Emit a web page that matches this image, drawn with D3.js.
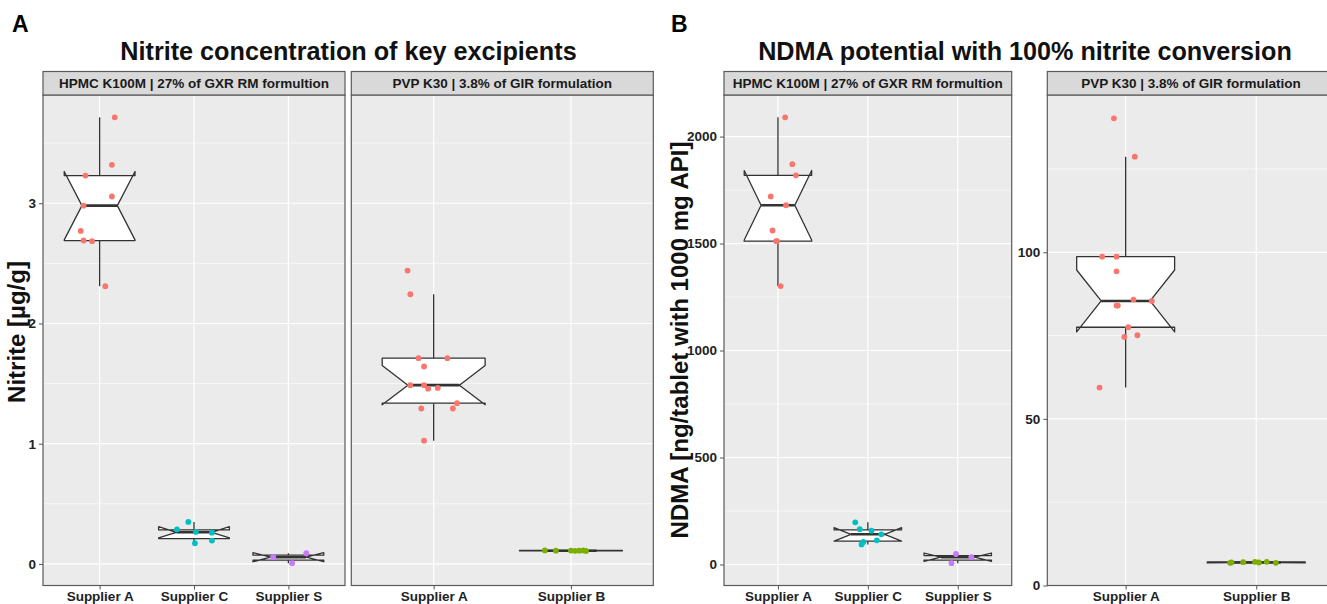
<!DOCTYPE html>
<html>
<head>
<meta charset="utf-8">
<script src="https://cdn.jsdelivr.net/npm/d3@7"></script>
<style>
  body { margin: 0; background: #fff; }
  text { font-family: "Liberation Sans", Arial, sans-serif; font-weight: bold; }
</style>
</head>
<body>
<svg id="chart"></svg>
<script>
// categories
const hpmcSuppliers = ["Supplier A", "Supplier C", "Supplier S"];
const pvpSuppliers = ["Supplier A", "Supplier B"];
const hpmcStrip = "HPMC K100M | 27% of GXR RM formultion";
const pvpStrip = "PVP K30 | 3.8% of GIR formulation";

// panel A: nitrite [µg/g], jitter offsets are in category steps
const nitriteHpmcA = [3.715, 3.32, 3.23, 3.056, 2.98, 2.77, 2.69, 2.685, 2.31];
const nitriteHpmcAJit = [0.16, 0.13, -0.15, 0.13, -0.17, -0.20, -0.17, -0.08, 0.06];
const nitriteHpmcC = [0.349, 0.288, 0.266, 0.26, 0.194, 0.172];
const nitriteHpmcCJit = [-0.06, -0.18, 0.02, 0.19, 0.19, 0.01];
const nitriteHpmcS = [0.089, 0.056, 0.006];
const nitriteHpmcSJit = [0.19, -0.16, 0.04];
const nitritePvpA = [2.44, 2.243, 1.711, 1.711, 1.642, 1.487, 1.487, 1.458, 1.464, 1.337, 1.293, 1.293, 1.025];
const nitritePvpAJit = [-0.19, -0.17, -0.11, 0.10, -0.07, -0.17, -0.07, -0.04, 0.03, 0.17, -0.09, 0.14, -0.07];
const nitritePvpB = [0.112, 0.11, 0.111, 0.109, 0.11, 0.112, 0.108];
const nitritePvpBJit = [-0.19, -0.11, 0.00, 0.03, 0.06, 0.09, 0.11];

// panel B: NDMA [ng/tablet with 1000 mg API]
const ndmaHpmcA = [2090, 1871, 1819, 1720, 1679, 1561, 1511, 1511, 1301];
const ndmaHpmcAJit = [0.08, 0.16, 0.20, -0.08, 0.09, -0.06, -0.02, -0.01, 0.03];
const ndmaHpmcC = [197, 165, 158, 141, 113, 105, 94];
const ndmaHpmcCJit = [-0.14, -0.09, 0.04, 0.15, 0.10, -0.05, -0.07];
const ndmaHpmcS = [49, 34, 6];
const ndmaHpmcSJit = [-0.02, 0.15, -0.07];
const ndmaPvpA = [140.2, 128.7, 98.7, 98.7, 94.3, 85.8, 85.4, 84.0, 84.0, 77.5, 75.1, 74.6, 59.4];
const ndmaPvpAJit = [-0.09, 0.07, -0.18, -0.07, -0.07, 0.06, 0.20, -0.07, -0.06, 0.02, 0.09, -0.01, -0.20];
const ndmaPvpB = [6.8, 6.9, 7.0, 7.1, 6.9, 7.1, 6.8];
const ndmaPvpBJit = [-0.20, -0.19, -0.10, -0.01, 0.02, 0.08, 0.15];

// tick labels
const nitriteTicks = [0, 1, 2, 3];
const ndmaHpmcTicks = [0, 500, 1000, 1500, 2000];
const ndmaPvpTicks = [0, 50, 100];

const colors = {
  "Supplier A": "#F8766D",
  "Supplier B": "#7CAE00",
  "Supplier C": "#00BFC4",
  "Supplier S": "#C77CFF"
};

const W = 1327, H = 604;
const stripTop = 71.5, panelTop = 95, panelBottom = 585.5;

const svg = d3.select("#chart").attr("width", W).attr("height", H);

function groups(names, vals, jits) {
  return names.map((n, i) => ({ name: n, values: vals[i], jitter: jits[i] }));
}

function expanded(all, zeroFloor) {
  const [lo, hi] = d3.extent(all);
  const pad = (hi - lo) * 0.05;
  return zeroFloor ? [0, hi + hi * 0.05] : [lo - pad, hi + pad];
}

function boxStats(values) {
  const v = values.slice().sort(d3.ascending);
  const q1 = d3.quantile(v, 0.25), med = d3.quantile(v, 0.5), q3 = d3.quantile(v, 0.75);
  const iqr = q3 - q1;
  const notch = 1.58 * iqr / Math.sqrt(v.length);
  return {
    q1, med, q3,
    lo: d3.min(v.filter(d => d >= q1 - 1.5 * iqr)),
    hi: d3.max(v.filter(d => d <= q3 + 1.5 * iqr)),
    nlo: med - notch, nhi: med + notch
  };
}

function facet(x0, x1, y, data, strip, ticks) {
  const g = svg.append("g");
  const x = d3.scalePoint().domain(data.map(d => d.name)).range([x0, x1]).padding(0.6);
  const step = x.step();
  const bw = step * 0.75;
  const tStep = ticks[1] - ticks[0];
  const minors = [ticks[0] - tStep / 2].concat(ticks.map(t => t + tStep / 2))
    .filter(t => t > y.domain()[0] && t < y.domain()[1]);

  g.append("rect").attr("x", x0).attr("y", panelTop)
    .attr("width", x1 - x0).attr("height", panelBottom - panelTop).attr("fill", "#ebebeb");

  g.selectAll(".minor").data(minors).enter().append("line")
    .attr("x1", x0).attr("x2", x1).attr("y1", d => y(d)).attr("y2", d => y(d))
    .attr("stroke", "#fff").attr("stroke-width", 0.6);
  g.selectAll(".major").data(ticks).enter().append("line")
    .attr("x1", x0).attr("x2", x1).attr("y1", d => y(d)).attr("y2", d => y(d))
    .attr("stroke", "#fff").attr("stroke-width", 1.2);
  g.selectAll(".vmajor").data(data).enter().append("line")
    .attr("x1", d => x(d.name)).attr("x2", d => x(d.name))
    .attr("y1", panelTop).attr("y2", panelBottom)
    .attr("stroke", "#fff").attr("stroke-width", 1.2);

  const line = d3.line();
  data.forEach(d => {
    const s = boxStats(d.values);
    const cx = x(d.name), xmin = cx - bw / 2, xmax = cx + bw / 2, ni = bw * 0.25;
    g.append("line").attr("x1", cx).attr("x2", cx).attr("y1", y(s.q3)).attr("y2", y(s.hi))
      .attr("stroke", "#333").attr("stroke-width", 1.3);
    g.append("line").attr("x1", cx).attr("x2", cx).attr("y1", y(s.q1)).attr("y2", y(s.lo))
      .attr("stroke", "#333").attr("stroke-width", 1.3);
    const pts = [
      [xmin, y(s.q3)], [xmin, y(s.nhi)], [xmin + ni, y(s.med)], [xmin, y(s.nlo)], [xmin, y(s.q1)],
      [xmax, y(s.q1)], [xmax, y(s.nlo)], [xmax - ni, y(s.med)], [xmax, y(s.nhi)], [xmax, y(s.q3)]
    ];
    g.append("path").attr("d", line(pts) + "Z")
      .attr("fill", "#fff").attr("stroke", "#333").attr("stroke-width", 1.3)
      .attr("stroke-linejoin", "round");
    g.append("line").attr("x1", xmin + ni).attr("x2", xmax - ni)
      .attr("y1", y(s.med)).attr("y2", y(s.med))
      .attr("stroke", "#333").attr("stroke-width", 2.6);
    g.selectAll(null).data(d.values).enter().append("circle")
      .attr("cx", (v, i) => cx + d.jitter[i] * step)
      .attr("cy", v => y(v))
      .attr("r", 2.9)
      .attr("fill", colors[d.name]);
  });

  g.append("rect").attr("x", x0).attr("y", panelTop)
    .attr("width", x1 - x0).attr("height", panelBottom - panelTop)
    .attr("fill", "none").attr("stroke", "#5a5a5a").attr("stroke-width", 1.2);

  g.append("rect").attr("x", x0).attr("y", stripTop)
    .attr("width", x1 - x0).attr("height", panelTop - stripTop)
    .attr("fill", "#d9d9d9").attr("stroke", "#5a5a5a").attr("stroke-width", 1.2);
  g.append("text").attr("x", (x0 + x1) / 2).attr("y", stripTop + 16)
    .attr("text-anchor", "middle").attr("font-size", 13.5).attr("fill", "#1a1a1a")
    .text(strip);

  const xAxis = g.append("g").attr("transform", `translate(0,${panelBottom})`)
    .call(d3.axisBottom(x).tickSize(4).tickPadding(2));
  xAxis.select(".domain").remove();
  xAxis.selectAll("line").attr("stroke", "#555");
  xAxis.selectAll("text").attr("font-size", 13.5).attr("fill", "#222")
    .attr("font-family", null);
  return x;
}

function yAxis(x0, y, ticks) {
  const a = svg.append("g").attr("transform", `translate(${x0},0)`)
    .call(d3.axisLeft(y).tickValues(ticks).tickFormat(d3.format("d")).tickSize(4).tickPadding(3));
  a.select(".domain").remove();
  a.selectAll("line").attr("stroke", "#555");
  a.selectAll("text").attr("font-size", 13.5).attr("fill", "#222").attr("font-family", null);
}

// Panel A
const yNitrite = d3.scaleLinear()
  .domain(expanded([].concat(nitriteHpmcA, nitriteHpmcC, nitriteHpmcS, nitritePvpA, nitritePvpB)))
  .range([panelBottom, panelTop]);
facet(43, 345, yNitrite,
  groups(hpmcSuppliers, [nitriteHpmcA, nitriteHpmcC, nitriteHpmcS], [nitriteHpmcAJit, nitriteHpmcCJit, nitriteHpmcSJit]),
  hpmcStrip, nitriteTicks);
facet(351.3, 653.3, yNitrite,
  groups(pvpSuppliers, [nitritePvpA, nitritePvpB], [nitritePvpAJit, nitritePvpBJit]),
  pvpStrip, nitriteTicks);
yAxis(43, yNitrite, nitriteTicks);

// Panel B
const yNdmaHpmc = d3.scaleLinear()
  .domain(expanded([].concat(ndmaHpmcA, ndmaHpmcC, ndmaHpmcS)))
  .range([panelBottom, panelTop]);
facet(724, 1011.7, yNdmaHpmc,
  groups(hpmcSuppliers, [ndmaHpmcA, ndmaHpmcC, ndmaHpmcS], [ndmaHpmcAJit, ndmaHpmcCJit, ndmaHpmcSJit]),
  hpmcStrip, ndmaHpmcTicks);
yAxis(724, yNdmaHpmc, ndmaHpmcTicks);

const yNdmaPvp = d3.scaleLinear()
  .domain(expanded([].concat(ndmaPvpA, ndmaPvpB), true))
  .range([panelBottom, panelTop]);
facet(1047.3, 1334.6, yNdmaPvp,
  groups(pvpSuppliers, [ndmaPvpA, ndmaPvpB], [ndmaPvpAJit, ndmaPvpBJit]),
  pvpStrip, ndmaPvpTicks);
yAxis(1047.3, yNdmaPvp, ndmaPvpTicks);

// titles and labels
svg.append("text").attr("x", 12).attr("y", 31.5).attr("font-size", 23).text("A");
svg.append("text").attr("x", 671).attr("y", 31.5).attr("font-size", 23).text("B");
svg.append("text").attr("x", 348.5).attr("y", 60).attr("text-anchor", "middle")
  .attr("font-size", 25.2).attr("fill", "#111").text("Nitrite concentration of key excipients");
svg.append("text").attr("x", 1025).attr("y", 60).attr("text-anchor", "middle")
  .attr("font-size", 25.2).attr("fill", "#111").text("NDMA potential with 100% nitrite conversion");
svg.append("text").attr("transform", `translate(25,332) rotate(-90)`)
  .attr("text-anchor", "middle").attr("font-size", 24).attr("fill", "#111").text("Nitrite [µg/g]");
svg.append("text").attr("transform", `translate(688,340) rotate(-90)`)
  .attr("text-anchor", "middle").attr("font-size", 24).attr("fill", "#111")
  .text("NDMA [ng/tablet with 1000 mg API]");
</script>
</body>
</html>
